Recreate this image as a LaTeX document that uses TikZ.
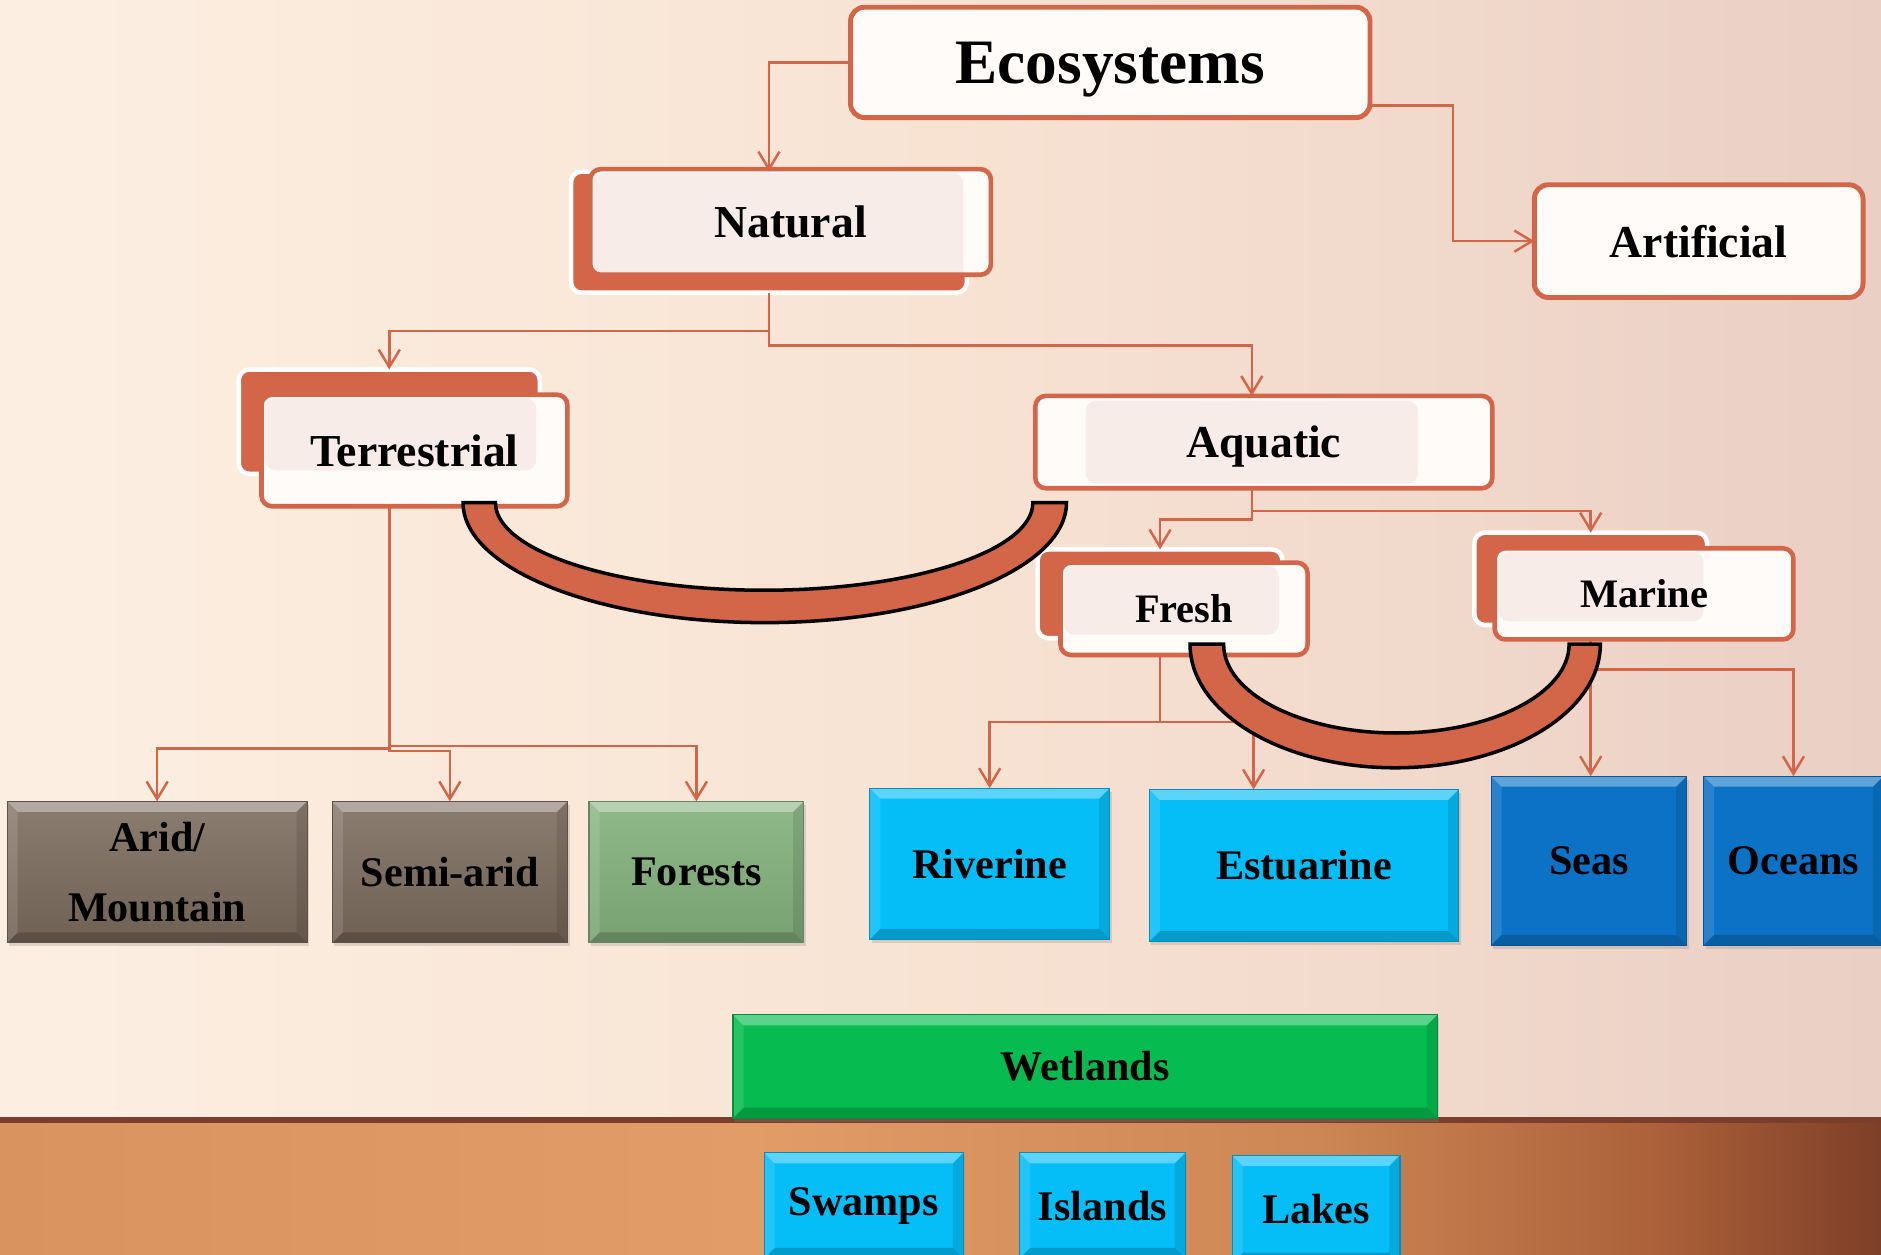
\documentclass[tikz,border=0pt]{standalone}
\usepackage{fontspec}
\setmainfont{Liberation Serif}
\usetikzlibrary{calc,arrows.meta,shadows}

\definecolor{org}{HTML}{D36549}
\definecolor{pinkin}{HTML}{F8ECE8}
\definecolor{whitein}{HTML}{FFFBF9}
\definecolor{cyanb}{HTML}{05BEF8}
\definecolor{blueb}{HTML}{0B72C6}
\definecolor{wetg}{HTML}{06BC50}
\definecolor{forg}{HTML}{86B37F}
\definecolor{brownb}{HTML}{7C6B5E}
\definecolor{bgA}{HTML}{FCEFE2}
\definecolor{bgB}{HTML}{F8E3D3}
\definecolor{bgC}{HTML}{EACFC4}
\definecolor{flA}{HTML}{D8935F}
\definecolor{flB}{HTML}{E19C68}
\definecolor{flC}{HTML}{CD8655}
\definecolor{flD}{HTML}{AC6139}
\definecolor{flE}{HTML}{7E3F28}
\definecolor{flLine}{HTML}{7A3F2C}

\pgfdeclarehorizontalshading{bgshade}{100bp}{color(0bp)=(bgA); color(25bp)=(bgA); color(50bp)=(bgB); color(75bp)=(bgC); color(100bp)=(bgC)}
\pgfdeclarehorizontalshading{floorshade}{100bp}{color(0bp)=(flA); color(25bp)=(flA); color(45bp)=(flB); color(60bp)=(flC); color(69bp)=(flD); color(75bp)=(flE); color(100bp)=(flE)}

\newcommand\bx[7]{%
  \node[#2, minimum width={(#5-#3)*0.012cm}, minimum height={(#6-#4)*0.012cm}] (#1) at ({(#3+#5)/2},{(#4+#6)/2}) {#7};}

\tikzset{
  conn/.style={draw=org, line width=0.7pt, -{Straight Barb[length=5pt,width=6pt]}},
  plainline/.style={draw=org, line width=0.7pt},
  lbl/.style={font=\bfseries\fontsize{13}{15}\selectfont, text depth=0pt},
  lblsm/.style={font=\bfseries\fontsize{11.5}{14}\selectfont, text depth=0pt},
  lblb/.style={font=\bfseries\fontsize{12}{19.8}\selectfont},
  plainbox/.style={draw=org, line width=1.4pt, fill=whitein, rounded corners=4pt, inner sep=0pt, outer sep=0pt},
  backbox/.style={draw=white, line width=1.3pt, fill=org, rounded corners=3pt, inner sep=0pt, outer sep=0pt},
  frontbox/.style={draw=org, line width=1.3pt, fill=whitein, rounded corners=3pt, inner sep=0pt, outer sep=0pt,
    path picture={\fill[pinkin] ($(path picture bounding box.north west)+(3,3)$) rectangle ($(#1.south east)+(-3,-3)$);}},
  aquabox/.style={draw=org, line width=1.3pt, fill=whitein, rounded corners=3pt, inner sep=0pt, outer sep=0pt,
    path picture={\fill[pinkin] ($(path picture bounding box.north west)+(42,4)$) rectangle ($(path picture bounding box.south east)+(-62,-4)$);}},
  bev/.style={fill=#1, draw=#1!75!black, line width=0.3pt, inner sep=0pt, outer sep=0pt, lblb,
    drop shadow={shadow xshift=0.6pt, shadow yshift=-1pt, opacity=0.25},
    path picture={
      \path (path picture bounding box.north west) coordinate (bNW)
            (path picture bounding box.north east) coordinate (bNE)
            (path picture bounding box.south west) coordinate (bSW)
            (path picture bounding box.south east) coordinate (bSE);
      \fill[white,opacity=0.35] (bNW) -- (bNE) -- ([shift={(-3pt,-3pt)}]bNE) -- ([shift={(3pt,-3pt)}]bNW) -- cycle;
      \fill[black,opacity=0.18] (bSW) -- (bSE) -- ([shift={(-3pt,3pt)}]bSE) -- ([shift={(3pt,3pt)}]bSW) -- cycle;
      \fill[white,opacity=0.12] (bNW) -- ([shift={(3pt,-3pt)}]bNW) -- ([shift={(3pt,3pt)}]bSW) -- (bSW) -- cycle;
      \fill[black,opacity=0.1] (bNE) -- ([shift={(-3pt,-3pt)}]bNE) -- ([shift={(-3pt,3pt)}]bSE) -- (bSE) -- cycle;
    }},
  brownsh/.style={top color=brownb!88!white, bottom color=brownb!90!black},
  greensh/.style={top color=forg!92!white, bottom color=forg!90!black},
  band/.style={fill=org, draw=black, line width=1pt}
}

\begin{document}
\begin{tikzpicture}[x=0.012cm, y=-0.012cm]
\useasboundingbox (0,0) rectangle (1568,1046);
\clip (0,0) rectangle (1568,1046);
% background
\shade[shading=bgshade] (0,0) rectangle (1568,1046);
\shade[shading=floorshade] (0,934) rectangle (1568,1046);
\fill[flLine] (0,931) rectangle (1568,936);

% top level
\bx{eco}{plainbox, font=\bfseries\fontsize{18}{20}\selectfont, text depth=0pt}{709}{6}{1142}{98}{Ecosystems}
\bx{art}{plainbox, lbl}{1279}{154}{1553}{248}{Artificial}

% layered boxes
\bx{natb}{backbox}{476}{143}{806}{244}{}
\bx{nat}{frontbox=natb, lbl}{492}{141}{826}{229}{Natural}
\bx{terb}{backbox}{199}{308}{450}{395}{}
\bx{ter}{frontbox=terb, lbl}{218}{329}{473}{422}{Terrestrial}
\bx{aqu}{aquabox, lbl}{863}{330}{1244}{407}{Aquatic}
\bx{freb}{backbox}{865}{458}{1069}{532}{}
\bx{fre}{frontbox=freb, lblsm}{884}{469}{1090}{546}{Fresh}
\bx{marb}{backbox}{1229}{444}{1423}{521}{}
\bx{mar}{frontbox=marb, lblsm}{1246}{457}{1495}{533}{Marine}

% bottom boxes
\bx{arid}{bev=brownb, brownsh, align=center}{6}{668}{256}{786}{Arid/\\Mountain}
\bx{semi}{bev=brownb, brownsh}{277}{668}{473}{786}{Semi-arid}
\bx{fore}{bev=forg, greensh}{491}{668}{670}{786}{Forests}
\bx{riv}{bev=cyanb}{725}{657}{925}{783}{Riverine}
\bx{est}{bev=cyanb}{958}{658}{1216}{785}{Estuarine}
\bx{seas}{bev=blueb}{1243}{647}{1406}{788}{Seas}
\bx{oce}{bev=blueb}{1420}{647}{1570}{788}{Oceans}
\bx{wet}{bev=wetg}{611}{846}{1198}{932}{Wetlands}
\bx{swa}{bev=cyanb}{637}{961}{803}{1049}{Swamps}
\bx{isl}{bev=cyanb}{850}{961}{988}{1049}{Islands}
\bx{lak}{bev=cyanb}{1027}{963}{1167}{1053}{Lakes}

% connectors
\draw[conn] (eco.west) -| (natb.north);
\draw[conn] ($(eco.south east)+(0,-10)$) -- ++(69,0) |- (art.west);
\draw[conn] (natb.south) -- ++(0,32) -| (terb.north);
\draw[conn] (natb.south) -- ++(0,44) -| ($(aqu.north)+(-10,0)$);
\draw[conn] ($(aqu.south)+(-10,0)$) -- ++(0,26) -| (freb.north);
\draw[conn] ($(aqu.south)+(-10,0)$) -- ++(0,19) -| (marb.north);

\draw[plainline] (ter.south -| terb.north) -- ++(0,202) coordinate (tj);
\draw[conn] (tj) -| (arid.north);
\draw[conn] (tj) -- ++(0,2) -| (semi.north);
\draw[conn] ($(tj)+(0,-2)$) -| (fore.north);

\draw[plainline] (fre.south -| freb.north) -- ++(0,56) coordinate (fj);
\draw[conn] (fj) -| (riv.north);
\draw[conn] (fj) -| ($(est.north)+(-42,0)$);

\draw[conn] (mar.south -| marb.north) -- (seas.north -| marb.north);
\draw[conn] ($(mar.south -| marb.north)+(0,25)$) -| (oce.north);

% curved bands
\draw[band] (386,419) .. controls (386,474.2) and (498.6,519) .. (637.5,519)
  .. controls (776.4,519) and (889,474.2) .. (889,419) -- (861,419)
  .. controls (861,459.3) and (760.7,492) .. (637,492)
  .. controls (513.3,492) and (413,459.3) .. (413,419) -- cycle;
\draw[band] (992,537) .. controls (992,593.9) and (1068.6,640) .. (1163,640)
  .. controls (1257.4,640) and (1334,593.9) .. (1334,537) -- (1308,537)
  .. controls (1308,577.9) and (1243.5,611) .. (1164,611)
  .. controls (1084.5,611) and (1020,577.9) .. (1020,537) -- cycle;
\end{tikzpicture}
\end{document}
